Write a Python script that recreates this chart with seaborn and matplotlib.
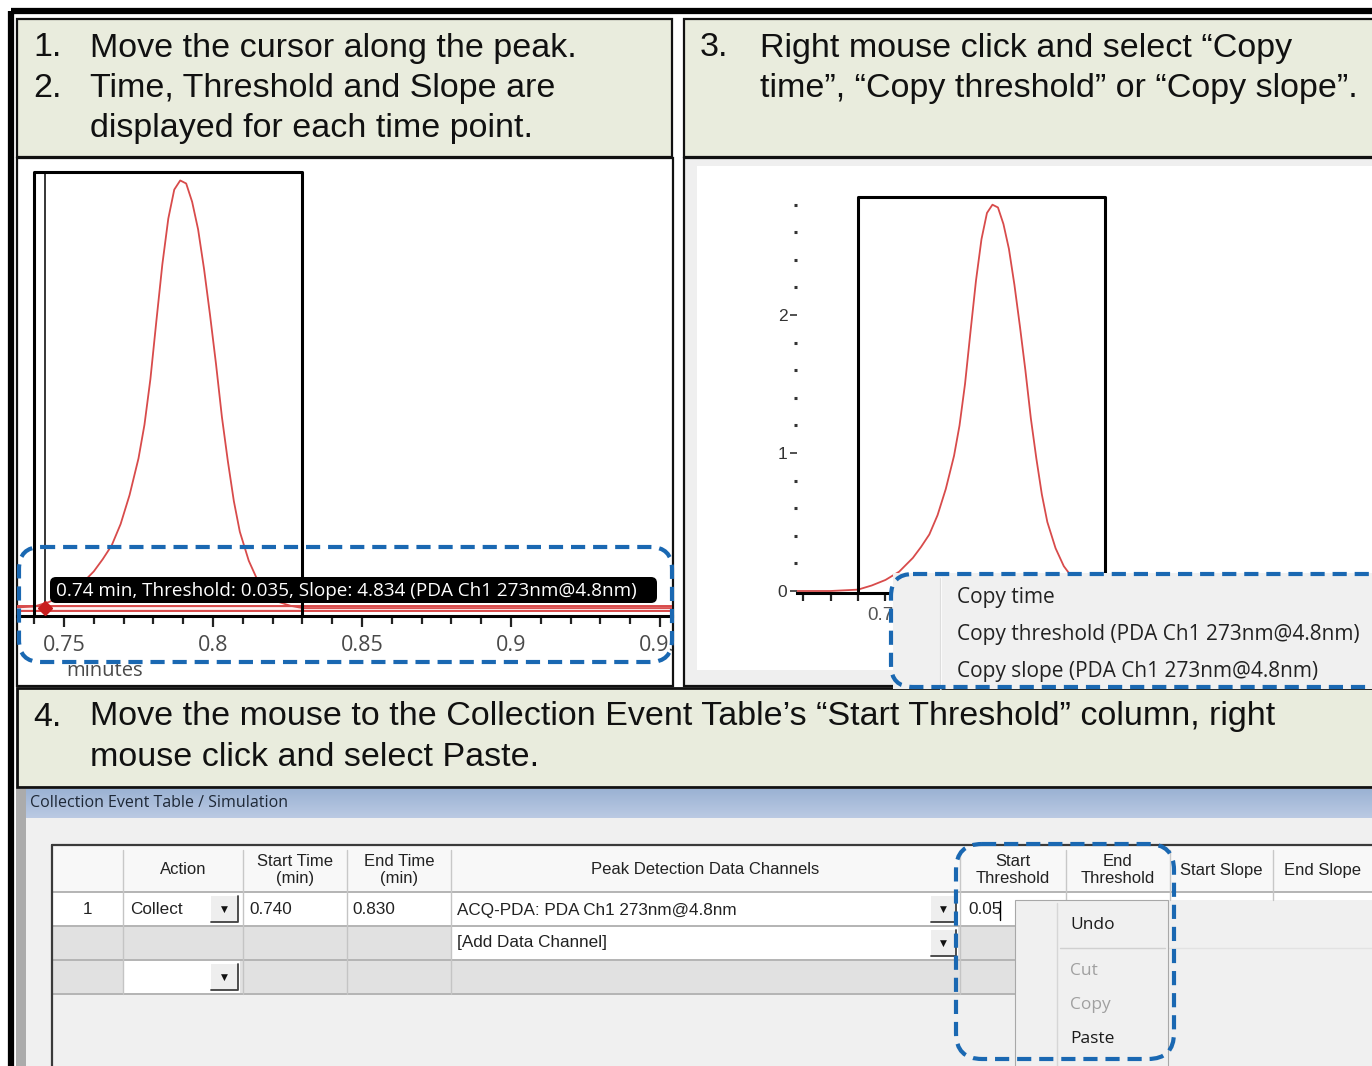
import matplotlib.pyplot as plt
import matplotlib.patches as mpatches
from matplotlib.ticker import MultipleLocator
from matplotlib.transforms import Bbox, TransformedBbox
import numpy as np
import seaborn as sns

W, H = 1372, 1066

# chromatogram (minutes, AU)
peak_time = [0.717, 0.730, 0.740, 0.745, 0.750, 0.755, 0.760, 0.763, 0.766, 0.769,
             0.772, 0.775, 0.777, 0.779, 0.781, 0.783, 0.785, 0.787, 0.789, 0.791,
             0.793, 0.795, 0.797, 0.799, 0.801, 0.803, 0.805, 0.807, 0.809, 0.812,
             0.815, 0.818, 0.822, 0.826, 0.830, 0.840, 0.900, 0.960]
peak_abs = [0.0, 0.0, 0.01, 0.04, 0.08, 0.14, 0.24, 0.32, 0.41, 0.55,
            0.74, 0.98, 1.20, 1.50, 1.88, 2.25, 2.55, 2.74, 2.80, 2.78,
            2.66, 2.48, 2.22, 1.92, 1.60, 1.25, 0.96, 0.70, 0.50, 0.31,
            0.18, 0.10, 0.04, 0.015, 0.0, 0.0, 0.0, 0.0]

start_time = 0.740
end_time = 0.830
window_top = 2.855
cursor_time = 0.7437
cursor_threshold = 0.035
cursor_slope = 4.834
channel = "PDA Ch1 273nm@4.8nm"

left_ticks = [0.75, 0.8, 0.85, 0.9, 0.95]
right_xticks = [0.75, 0.8, 0.85, 0.9]
right_yticks = [0, 1, 2]

step1 = [("1.", "Move the cursor along the peak."),
         ("2.", "Time, Threshold and Slope are"),
         ("", "displayed for each time point.")]
step3 = [("3.", "Right mouse click and select \u201cCopy"),
         ("", "time\u201d, \u201cCopy threshold\u201d or \u201cCopy slope\u201d.")]
step4 = [("4.", "Move the mouse to the Collection Event Table\u2019s \u201cStart Threshold\u201d column, right"),
         ("", "mouse click and select Paste.")]

copy_menu = ["Copy time", f"Copy threshold ({channel})", f"Copy slope ({channel})"]
edit_menu = ["Undo", "Cut", "Copy", "Paste"]
edit_enabled = [True, False, False, True]

table_title = "Collection Event Table / Simulation"
table_columns = ["", "Action", "Start Time\n(min)", "End Time\n(min)", "Peak Detection Data Channels",
                 "Start\nThreshold", "End\nThreshold", "Start Slope", "End Slope"]
row1 = ["1", "Collect", f"{start_time:.3f}", f"{end_time:.3f}", f"ACQ-PDA: {channel}", "0.05"]
row2_channel = "[Add Data Channel]"

GREEN = "#E9ECDD"
BLUE = "#1A68B2"
RED = "#D84B4B"
HEAD = 24.5

sns.set_style("white")
plt.rcParams["font.family"] = ["Liberation Sans", "DejaVu Sans"]
UI = ["Open Sans", "DejaVu Sans"]

fig = plt.figure(figsize=(W / 100, H / 100), dpi=100)


def frac(x0, y0, x1, y1):
    return [x0 / W, 1 - y1 / H, (x1 - x0) / W, (y1 - y0) / H]


def pixel_axes(z):
    ax = fig.add_axes([0, 0, 1, 1], zorder=z)
    ax.set_xlim(0, W)
    ax.set_ylim(H, 0)
    ax.axis("off")
    ax.patch.set_alpha(0)
    return ax


def rect(ax, x0, y0, x1, y1, fc="none", ec="none", lw=0, z=1):
    ax.add_patch(mpatches.Rectangle((x0, y0), x1 - x0, y1 - y0, facecolor=fc,
                                    edgecolor=ec, linewidth=lw, zorder=z))


def rounded(ax, x0, y0, x1, y1, r, **kw):
    ax.add_patch(mpatches.FancyBboxPatch((x0, y0), x1 - x0, y1 - y0,
                                         boxstyle=f"round,pad=0,rounding_size={r}", **kw))


bg = pixel_axes(0)

# frames and instruction boxes
rect(bg, 11, 11, W + 20, H + 20, ec="black", lw=4.5)
rect(bg, 17, 19, 672, 157, fc=GREEN, ec="#111", lw=1.6)
rect(bg, 684, 19, W + 5, 157, fc=GREEN, ec="#111", lw=1.6)
rect(bg, 17, 158, 673, 686, fc="white", ec="#111", lw=1.6)
rect(bg, 684, 158, W + 5, 686, fc="#EFEFEF", ec="#111", lw=1.6)
rect(bg, 697, 166, W + 2, 670, fc="white", z=2)
rect(bg, 17, 688, W + 5, 787, fc=GREEN, ec="#111", lw=2)

for lines, x_num, x_txt in [(step1, 33, 90), (step3, 700, 760)]:
    for i, (num, txt) in enumerate(lines):
        y = 48 + i * 40.5
        bg.text(x_num, y, num, fontsize=HEAD, va="center", color="#111", zorder=5)
        bg.text(x_txt, y, txt, fontsize=HEAD, va="center", color="#111", zorder=5)
for i, (num, txt) in enumerate(step4):
    y = 717 + i * 40
    bg.text(33, y, num, fontsize=HEAD, va="center", color="#111", zorder=5)
    bg.text(90, y, txt, fontsize=HEAD, va="center", color="#111", zorder=5)

# table screenshot
rect(bg, 16, 789, W, H, fc="#F0F0F0")
rect(bg, 16, 789, 26, H, fc="#ABABAB")
grad = np.linspace(0, 1, 30)[:, None, None] * np.array([0.12, 0.09, 0.06]) + np.array([0.61, 0.70, 0.83])
bg.imshow(np.repeat(grad, 2, axis=1), extent=(26, W, 818, 789), aspect="auto", zorder=1)
bg.set_xlim(0, W)
bg.set_ylim(H, 0)
bg.text(30, 803, table_title, family=UI, fontsize=11.5, va="center", color="#1E2836", zorder=5)

col_edges = [52, 123, 243, 347, 451, 960, 1066, 1170, 1273, W]
rect(bg, 52, 846, W, 892, fc="#F8F8F8")
rect(bg, 52, 892, 1168, 926, fc="white")
rect(bg, 1168, 892, W, 900, fc="white")
rect(bg, 52, 926, 1015, 994, fc="#E1E1E1")
rect(bg, 451, 927, 958, 959, fc="white", z=2)
rect(bg, 123, 961, 240, 993, fc="white", z=2)
bg.plot([52, W], [845, 845], color="#3A3A3A", lw=1.6, zorder=4)
bg.plot([52, 52], [845, H], color="#3A3A3A", lw=1.6, zorder=4)
bg.plot([52, W], [892, 892], color="#A8A8A8", lw=1.2, zorder=3)
for y in [926, 960, 994]:
    bg.plot([52, 1015], [y, y], color="#B4B4B4", lw=1.4, zorder=3)
bg.plot([1168, W], [948, 948], color="#E2E2E2", lw=1, zorder=3)
for x in col_edges[1:-1]:
    bg.plot([x, x], [850, 892], color="#C8C8C8", lw=1, zorder=3)
    bg.plot([x, x], [892, 994 if x <= 960 else 900], color="#C4C4C4", lw=1, zorder=3)
for i, name in enumerate(table_columns):
    xc = (col_edges[i] + col_edges[i + 1]) / 2
    bg.text(xc, 870, name, fontsize=12, ha="center", va="center", color="#222",
            linespacing=1.15, zorder=5)

row1_x = [87, 130, 249, 352, 457, 968]
for i, (x, val) in enumerate(zip(row1_x, row1)):
    bg.text(x, 910, val, fontsize=12.3, ha="center" if i == 0 else "left", va="center",
            color="#222", zorder=5)
bg.plot([1000, 1000], [901, 920], color="black", lw=1, zorder=5)
bg.text(457, 943, row2_channel, fontsize=12.3, va="center", color="#222", zorder=5)


def dropdown(x0, y0, x1, y1):
    rect(bg, x0, y0, x1, y1, fc="#EEEEEE", z=4)
    bg.plot([x1, x1, x0], [y0, y1, y1], color="#404040", lw=1.3, zorder=4)
    bg.text((x0 + x1) / 2, (y0 + y1) / 2, "\u25bc", family="DejaVu Sans", fontsize=6.5,
            ha="center", va="center", color="#111", zorder=5)


dropdown(211, 896, 238, 922)
dropdown(211, 964, 238, 990)
dropdown(931, 896, 956, 922)
dropdown(931, 930, 956, 956)

# edit pop-up menu in the table
rect(bg, 1015, 900, 1168, H + 2, fc="#F0F0F0", ec="#A8A8A8", lw=0.8, z=6)
bg.plot([1057, 1057], [903, H], color="#D6D6D6", lw=1, zorder=7)
bg.plot([1060, 1165], [948, 948], color="#D0D0D0", lw=1, zorder=7)
for i, (item, on) in enumerate(zip(edit_menu, edit_enabled)):
    y = [925, 971, 1005, 1039][i]
    bg.text(1070, y, item, family=UI, fontsize=12.5, va="center",
            color="#1A1A1A" if on else "#A0A0A0", zorder=8)

# left chromatogram
axL = fig.add_axes(frac(17, 158, 672, 616), zorder=1)
axL.patch.set_alpha(0)
axL.set_xlim(0.73423, 0.95403)
axL.set_ylim(-0.052, 2.947)
ybot = axL.get_ylim()[0]
axL.axhline(0, color=RED, lw=5, zorder=1)
axL.axhline(0, color="#FFF4F4", lw=2, zorder=1)
sns.lineplot(x=peak_time, y=peak_abs, ax=axL, color=RED, lw=1.3, estimator=None, sort=False, zorder=2)
axL.plot([start_time, start_time, end_time, end_time], [ybot, window_top, window_top, ybot],
         color="black", lw=2.2, zorder=3)
axL.plot([cursor_time, cursor_time], [ybot, window_top], color="black", lw=1.1, zorder=3)
axL.plot([cursor_time], [0], marker="D", ms=7, color="#C81E1E", zorder=4)
for s in ["left", "top", "right"]:
    axL.spines[s].set_visible(False)
axL.spines["bottom"].set_linewidth(2.2)
axL.spines["bottom"].set_color("black")
axL.set_yticks([])
axL.set_xticks(left_ticks)
axL.set_xticklabels([f"{t:g}" for t in left_ticks])
axL.xaxis.set_minor_locator(MultipleLocator(0.01))
axL.tick_params(axis="x", which="major", direction="out", length=8, width=1.6, color="#222",
                labelsize=15.5, labelcolor="#4A4A4A", pad=6, bottom=True)
axL.tick_params(axis="x", which="minor", direction="out", length=6, width=1.6, color="#222", bottom=True)
for lbl in axL.get_xticklabels():
    lbl.set_fontfamily(UI)
axL.set_xlabel("minutes", fontsize=14.5, color="#4A4A4A", family=UI)
axL.xaxis.set_label_coords(0.134, -0.098)
clip = TransformedBbox(Bbox.from_extents(17 / W, 1 - 686 / H, 672 / W, 1 - 158 / H), fig.transFigure)
for lbl in axL.get_xticklabels():
    lbl.set_clip_box(clip)
    lbl.set_clip_on(True)

# right chromatogram
axR = fig.add_axes(frac(797, 184, W, 593), zorder=1)
axR.patch.set_alpha(0)
axR.set_xlim(0.71777, 0.92732)
axR.set_ylim(-0.0145, 2.95)
sns.lineplot(x=peak_time, y=peak_abs, ax=axR, color=RED, lw=1.3, estimator=None, sort=False, zorder=2)
axR.plot([start_time, start_time, end_time, end_time], [0, window_top, window_top, 0],
         color="black", lw=2.2, zorder=3)
for s in ["left", "top", "right"]:
    axR.spines[s].set_visible(False)
axR.spines["bottom"].set_linewidth(2.2)
axR.spines["bottom"].set_color("black")
axR.set_yticks(right_yticks)
axR.set_yticklabels([str(v) for v in right_yticks])
axR.yaxis.set_minor_locator(MultipleLocator(0.2))
axR.tick_params(axis="y", which="major", direction="out", length=5, width=1.2, color="#333",
                labelsize=12.5, labelcolor="#333", pad=2, left=True)
axR.tick_params(axis="y", which="minor", direction="out", length=2, width=2.2, color="#333", left=True)
axR.set_xticks(right_xticks)
axR.set_xticklabels([f"{t:g}" for t in right_xticks])
axR.xaxis.set_minor_locator(MultipleLocator(0.01))
axR.tick_params(axis="x", which="both", direction="out", length=6, width=1.6, color="#222",
                labelsize=13.5, labelcolor="#555", pad=4, bottom=True)

# overlays: tooltip, context menu, highlight boxes
top = pixel_axes(3)
rounded(top, 50, 577, 657, 603, 6, facecolor="black", edgecolor="none", zorder=2)
top.text(56, 590.5, f"{cursor_time:.2f} min, Threshold: {cursor_threshold}, Slope: {cursor_slope} ({channel})",
         family=UI, fontsize=13.6, color="white", va="center", zorder=3)
rect(top, 893, 573, W + 2, 689, fc="#F0F0F0", z=2)
top.plot([941, 941], [578, 689], color="#FFFFFF", lw=1.2, zorder=3)
top.plot([940, 940], [578, 689], color="#DDDDDD", lw=0.8, zorder=3)
for i, item in enumerate(copy_menu):
    top.text(957, 597 + i * 37.5, item, family=UI, fontsize=15, va="center", color="#222", zorder=4)

dash = dict(facecolor="none", edgecolor=BLUE, lw=3, linestyle=(0, (3.4, 1.9)), zorder=6)
rounded(top, 19, 547, 672, 662, 22, **dash)
rounded(top, 891, 574, W + 20, 687, 22, **dash)
rounded(top, 956, 844, 1174, 1059, 26, **dash)

fig.savefig("out.png", dpi=100)
